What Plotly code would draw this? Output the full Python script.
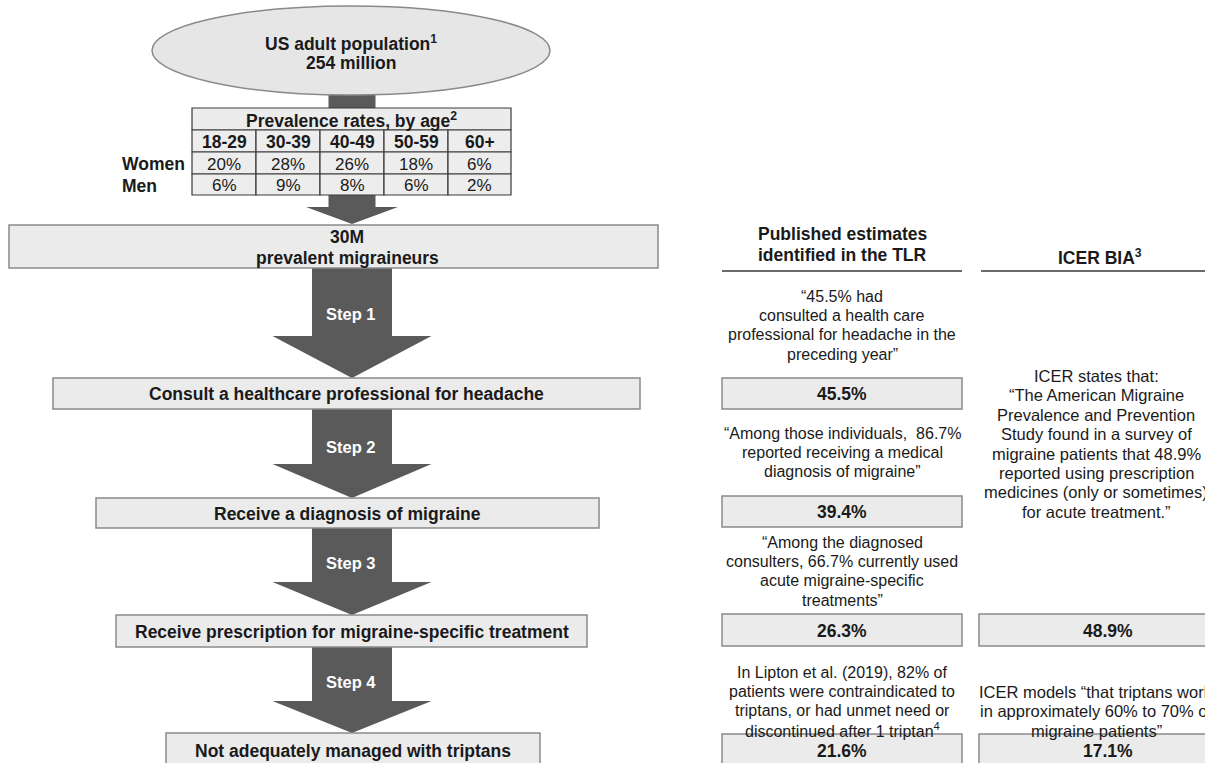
import plotly.graph_objects as go

# ---------------- data ----------------
ages = ["18-29", "30-39", "40-49", "50-59", "60+"]
women_rates = [20, 28, 26, 18, 6]
men_rates = [6, 9, 8, 6, 2]
sex_labels = ["Women", "Men"]
table_title = "Prevalence rates, by age<sup>2</sup>"
population_lines = ["US adult population<sup>1</sup>", "254 million"]

stage_labels = [
    ["30M", "prevalent migraineurs"],
    ["Consult a healthcare professional for headache"],
    ["Receive a diagnosis of migraine"],
    ["Receive prescription for migraine-specific treatment"],
    ["Not adequately managed with triptans"],
]
step_labels = ["Step 1", "Step 2", "Step 3", "Step 4"]

published_header = ["Published estimates", "identified in the TLR"]
icer_header = "ICER BIA<sup>3</sup>"
published_pct = [45.5, 39.4, 26.3, 21.6]
icer_pct = [None, None, 48.9, 17.1]
published_notes = [
    ["\u201c45.5% had", "consulted a health care", "professional for headache in the", "preceding year\u201d"],
    ["\u201cAmong those individuals,  86.7%", "reported receiving a medical", "diagnosis of migraine\u201d"],
    ["\u201cAmong the diagnosed", "consulters, 66.7% currently used", "acute migraine-specific", "treatments\u201d"],
    ["In Lipton et al. (2019), 82% of", "patients were contraindicated to",
     "triptans, or had unmet need or", "discontinued after 1 triptan<sup>4</sup>"],
]
icer_notes = [
    None,
    None,
    ["ICER states that:", "\u201cThe American Migraine", "Prevalence and Prevention",
     "Study found in a survey of", "migraine patients that 48.9%", "reported using prescription",
     "medicines (only or sometimes)", "for acute treatment.\u201d"],
    ["ICER models \u201cthat triptans work", "in approximately 60% to 70% of", "migraine patients\u201d"],
]

# ---------------- styling / geometry ----------------
FONT = "Liberation Sans, Arial, sans-serif"
TXT = "#1a1a1a"
BOX_FILL = "#ebebeb"
BOX_LINE = "#8a8a8a"
ARROW = "#5a5a5a"
BOLD = 17.5
REG = 16
LS = 19.4

shapes = []
annos = []


def rect(x0, y0, x1, y1, fill=BOX_FILL, line=BOX_LINE, lw=1.5):
    shapes.append(dict(type="rect", xref="x", yref="y", x0=x0, x1=x1, y0=y0, y1=y1,
                       fillcolor=fill, line=dict(color=line, width=lw), layer="above"))


def arrow(cx, top, head_y, tip, sw, hw):
    p = (f"M {cx - sw / 2},{top} L {cx + sw / 2},{top} L {cx + sw / 2},{head_y} "
         f"L {cx + hw / 2},{head_y} L {cx},{tip} L {cx - hw / 2},{head_y} "
         f"L {cx - sw / 2},{head_y} Z")
    shapes.append(dict(type="path", xref="x", yref="y", path=p, fillcolor=ARROW,
                       line=dict(width=0), layer="above"))


def text(x, y, s, size=REG, bold=False, color=TXT, anchor="center"):
    annos.append(dict(x=x, y=y, xref="x", yref="y", text=(f"<b>{s}</b>" if bold else s),
                      showarrow=False, xanchor=anchor, yanchor="middle",
                      font=dict(family=FONT, size=size, color=color)))


def lines(x, y0, items, size=REG, bold=False):
    for i, s in enumerate(items):
        text(x, y0 + i * LS, s, size=size, bold=bold)


# top arrow (ellipse -> 30M box), drawn first so table/ellipse cover it
arrow(352, 80, 207, 224, 47, 92)

# ellipse
shapes.append(dict(type="circle", xref="x", yref="y", x0=152, x1=550, y0=6, y1=95,
                   fillcolor="#e6e6e6", line=dict(color="#8a8a8a", width=1.5), layer="above"))
text(351, 43, population_lines[0], size=BOLD, bold=True)
text(351, 63, population_lines[1], size=BOLD, bold=True)

# prevalence table
col_edges = [192, 256, 320, 384, 448, 511]
row_edges = [108, 130, 152, 174, 195]
TBL_LINE = "#3a3a3a"
rect(col_edges[0], row_edges[0], col_edges[-1], row_edges[1], fill="#ececec", line=TBL_LINE, lw=1.2)
text((col_edges[0] + col_edges[-1]) / 2, (row_edges[0] + row_edges[1]) / 2 + 1, table_title,
     size=BOLD, bold=True)
rows = [ages, [f"{v}%" for v in women_rates], [f"{v}%" for v in men_rates]]
for r, vals in enumerate(rows):
    ya, yb = row_edges[r + 1], row_edges[r + 2]
    for c, v in enumerate(vals):
        rect(col_edges[c], ya, col_edges[c + 1], yb, fill="#ededed", line=TBL_LINE, lw=1.2)
        text((col_edges[c] + col_edges[c + 1]) / 2, (ya + yb) / 2 + 1, v,
             size=(BOLD if r == 0 else 17), bold=(r == 0))
for i, lab in enumerate(sex_labels):
    text(120, (row_edges[i + 2] + row_edges[i + 3]) / 2 + 1, lab, size=BOLD, bold=True, anchor="left")

# step arrows
arrow_geo = [(268, 336, 378), (409, 464, 498), (528, 582, 615), (647, 701, 733)]
step_text_y = [314, 447, 563, 682]
for (t, h, tip), lab, ty in zip(arrow_geo, step_labels, step_text_y):
    arrow(352, t, h, tip, 80, 159)
    text(351, ty, lab, size=16.5, bold=True, color="white")

# funnel boxes
box_geo = [(9, 225, 658, 268), (53, 378, 640, 409), (96, 498, 599, 528),
           (116, 615, 587, 647), (166, 733, 540, 770)]
for (x0, y0, x1, y1), labs in zip(box_geo, stage_labels):
    rect(x0, y0, x1, y1)
    if len(labs) == 2:
        text(347, 237, labs[0], size=BOLD, bold=True)
        text(347, 258, labs[1], size=BOLD, bold=True)
    else:
        text((x0 + x1) / 2, (y0 + min(y1, 767)) / 2 + 0.5, labs[0], size=BOLD, bold=True)

# right-hand columns: headers
text(842, 234, published_header[0], size=BOLD, bold=True)
text(842, 255, published_header[1], size=BOLD, bold=True)
text(1100, 257, icer_header, size=BOLD, bold=True)
for x0, x1 in [(722, 962), (981, 1215)]:
    shapes.append(dict(type="line", xref="x", yref="y", x0=x0, x1=x1, y0=271, y1=271,
                       line=dict(color="#3a3a3a", width=1.5)))

# published estimates column
pub_box_y = [(378, 409), (496, 527), (614, 646), (734, 770)]
pub_note_y = [296, 433, 542, 672]
for pct, (y0, y1), note, ny in zip(published_pct, pub_box_y, published_notes, pub_note_y):
    lines(842, ny, note)
    rect(722, y0, 962, y1)
    text(842, (y0 + min(y1, 767)) / 2 + 0.5, f"{pct:.1f}%", size=BOLD, bold=True)

# ICER column
icer_note_y = [None, None, 376, 692]
for pct, (y0, y1), note, ny in zip(icer_pct, pub_box_y, icer_notes, icer_note_y):
    if note is not None:
        lines(1096, ny, note, size=16.5)
    if pct is not None:
        rect(979, y0, 1237, y1)
        text(1108, (y0 + min(y1, 767)) / 2 + 0.5, f"{pct:.1f}%", size=BOLD, bold=True)

fig = go.Figure(go.Scatter(x=[None], y=[None], mode="markers", hoverinfo="skip", showlegend=False))
fig.update_layout(
    width=1205, height=763,
    margin=dict(l=0, r=0, t=0, b=0),
    paper_bgcolor="white", plot_bgcolor="white",
    xaxis=dict(range=[0, 1205], visible=False, fixedrange=True),
    yaxis=dict(range=[763, 0], visible=False, fixedrange=True),
    shapes=shapes, annotations=annos, showlegend=False,
)
fig.write_html("out.html", config={"displayModeBar": False},
               post_script="document.body.style.margin='0px';document.body.style.overflow='hidden';")
